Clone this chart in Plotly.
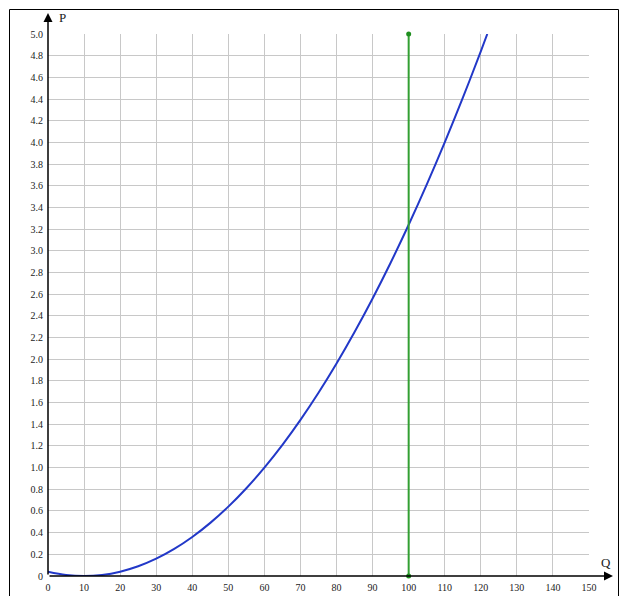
import plotly.graph_objects as go

# Data
q_curve = [0, 5, 10, 15, 20, 25, 30, 35, 40, 45, 50, 55, 60, 65, 70, 75, 80, 85,
           90, 95, 100, 105, 110, 115, 120, 121.8]
p_curve = [0.04, 0.01, 0.0, 0.01, 0.04, 0.09, 0.16, 0.25, 0.36, 0.49, 0.64, 0.81,
           1.0, 1.21, 1.44, 1.69, 1.96, 2.25, 2.56, 2.89, 3.24, 3.61, 4.0, 4.41,
           4.84, 5.0]
q_vline = [100, 100]
p_vline = [0, 5.0]

x_ticks = list(range(0, 151, 10))
y_ticks = [round(i * 0.2, 1) for i in range(26)]
y_ticklabels = ["0"] + [f"{v:.1f}" for v in y_ticks[1:]]

# page body has an 8px margin; work in screenshot pixels and convert
OFF = 8
W, H = 627 - OFF, 596 - OFF
PL, PR, PT, PB = 48, 589, 34, 576          # plot area in screenshot pixels
L, T = PL - OFF, PT - OFF
R, B = W - (PR - OFF), H - (PB - OFF)
pw, ph = PR - PL, PB - PT
XMAX, YMAX = 150, 5.0

def px(xp):
    return (xp - PL) / pw

def py(yp):
    return (PB - yp) / ph

def dx(xp):
    return px(xp) * XMAX

def dy(yp):
    return py(yp) * YMAX

font = dict(family="Liberation Serif, Times New Roman, serif", size=10, color="#222")

fig = go.Figure()
fig.add_trace(go.Scatter(x=q_curve, y=p_curve, mode="lines",
                         line=dict(color="#2238c8", width=2, shape="spline"),
                         cliponaxis=False, hoverinfo="skip"))
fig.add_trace(go.Scatter(x=q_vline, y=p_vline, mode="lines+markers",
                         line=dict(color="#33a033", width=2),
                         marker=dict(color="#1f8f1f", size=5),
                         cliponaxis=False, hoverinfo="skip"))

fig.update_layout(
    width=W, height=H,
    margin=dict(l=L, r=R, t=T, b=B, pad=0, autoexpand=False),
    paper_bgcolor="white", plot_bgcolor="white",
    showlegend=False,
    font=font,
    xaxis=dict(range=[0, XMAX], tickmode="array", tickvals=x_ticks,
               ticktext=[str(v) for v in x_ticks],
               showgrid=True, gridcolor="#c8c8c8", gridwidth=1,
               zeroline=False, showline=False, ticks="", ticklen=0,
               ticklabelstandoff=4,
               tickfont=font, fixedrange=True, automargin=False),
    yaxis=dict(range=[0, YMAX], tickmode="array", tickvals=y_ticks,
               ticktext=y_ticklabels,
               showgrid=True, gridcolor="#c8c8c8", gridwidth=1,
               zeroline=False, showline=False, ticks="", ticklen=0,
               ticklabelstandoff=4,
               tickfont=font, fixedrange=True, automargin=False),
    shapes=[
        # outer border
        dict(type="rect", xref="paper", yref="paper",
             x0=px(9.5), x1=px(618.5), y0=py(640), y1=py(9.5),
             line=dict(color="black", width=1), fillcolor="rgba(0,0,0,0)", layer="below"),
    ],
    annotations=[
        # x axis with arrow
        dict(xref="x", yref="y", x=dx(613), y=0, ax=0, ay=0,
             axref="x", ayref="y", showarrow=True, arrowhead=2,
             arrowsize=1.2, arrowwidth=1.5, arrowcolor="black", text=""),
        # y axis with arrow
        dict(xref="x", yref="y", x=0, y=dy(13), ax=0, ay=0,
             axref="x", ayref="y", showarrow=True, arrowhead=2,
             arrowsize=1.2, arrowwidth=1.5, arrowcolor="black", text=""),
        dict(xref="paper", yref="paper", x=px(57), y=py(18), text="P",
             showarrow=False, xanchor="left", yanchor="middle",
             font=dict(family="Liberation Serif, serif", size=13, color="#222")),
        dict(xref="paper", yref="paper", x=px(606), y=py(562), text="Q",
             showarrow=False, xanchor="center", yanchor="middle",
             font=dict(family="Liberation Serif, serif", size=13, color="#222")),
    ],
)

fig.write_html("out.html")
